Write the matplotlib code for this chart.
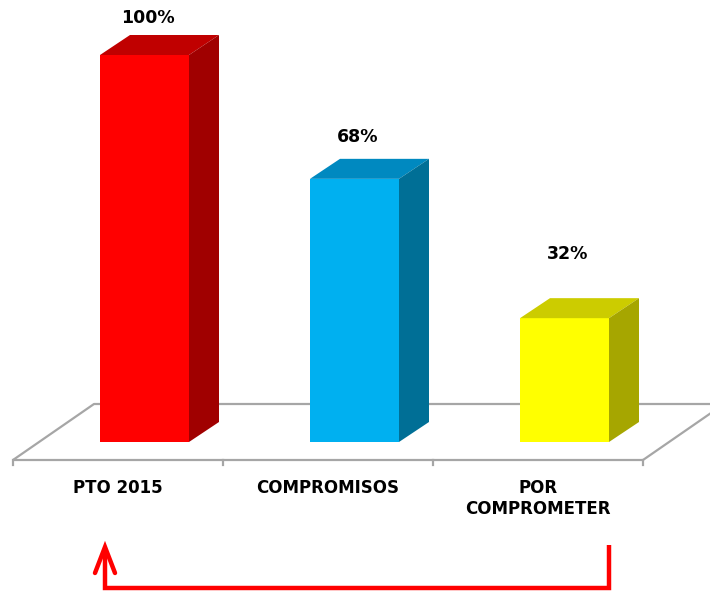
import matplotlib

matplotlib.use("Agg")
import matplotlib.pyplot as plt
from matplotlib.patches import Polygon

categories = ["PTO 2015", "COMPROMISOS", "POR\nCOMPROMETER"]
values = [100, 68, 32]
value_labels = ["100%", "68%", "32%"]
front_colors = ["#FF0000", "#00B0F0", "#FFFF00"]
top_colors = ["#C00000", "#0089C0", "#CCCC00"]
side_colors = ["#A00000", "#006F96", "#A6A600"]

# layout in pixel units (figure is 710 x 591)
W, H = 710, 591
BASE_Y = 442
PX_PER_PCT = 3.87
BAR_W = 89
DX, DY = 30, 20
SLOT = 210
FIRST_X = 100
LABEL_GAP = [17, 22, 44]
FLOOR_FRONT, FLOOR_BACK = 460, 404
FLOOR_LEFT, FLOOR_RIGHT = 13, 643
GREY = "#A6A6A6"

fig = plt.figure(figsize=(W / 100, H / 100), dpi=100)
ax = fig.add_axes([0, 0, 1, 1])
ax.set_xlim(0, W)
ax.set_ylim(H, 0)
ax.axis("off")

# floor (drawn behind the bars)
fdx = 81
ax.plot([FLOOR_LEFT, FLOOR_LEFT + fdx, W + 20], [FLOOR_FRONT, FLOOR_BACK, FLOOR_BACK],
        color=GREY, lw=1.6, solid_capstyle="butt", zorder=0.5)
ax.plot([FLOOR_LEFT, FLOOR_RIGHT, FLOOR_RIGHT + fdx], [FLOOR_FRONT, FLOOR_FRONT, FLOOR_BACK],
        color=GREY, lw=1.6, solid_capstyle="butt", zorder=0.5)
for i in range(len(categories) + 1):
    tx = FLOOR_LEFT + i * (FLOOR_RIGHT - FLOOR_LEFT) / len(categories)
    ax.plot([tx, tx], [FLOOR_FRONT, FLOOR_FRONT + 5], color=GREY, lw=1.6, zorder=0.5)

# bars
for i, v in enumerate(values):
    x0 = FIRST_X + i * SLOT
    x1 = x0 + BAR_W
    top = BASE_Y - v * PX_PER_PCT
    ax.add_patch(Polygon([(x0, BASE_Y), (x1, BASE_Y), (x1, top), (x0, top)],
                         closed=True, fc=front_colors[i], ec="none", zorder=2))
    ax.add_patch(Polygon([(x0, top), (x1, top), (x1 + DX, top - DY), (x0 + DX, top - DY)],
                         closed=True, fc=top_colors[i], ec="none", zorder=2))
    ax.add_patch(Polygon([(x1, BASE_Y), (x1 + DX, BASE_Y - DY), (x1 + DX, top - DY), (x1, top)],
                         closed=True, fc=side_colors[i], ec="none", zorder=2))
    ax.text(x0 + BAR_W / 2 + 3, top - DY - LABEL_GAP[i], value_labels[i],
            ha="center", va="center", fontsize=12.5, fontweight="bold", color="black")

    cx = FLOOR_LEFT + (i + 0.5) * (FLOOR_RIGHT - FLOOR_LEFT) / len(categories)
    ax.text(cx, 479, categories[i], ha="center", va="top", fontsize=12,
            fontweight="bold", color="black", linespacing=1.2)

# red arrow from "POR COMPROMETER" back to "PTO 2015"
ax.plot([609, 609, 105, 105], [545, 588, 588, 552], color="#FF0000", lw=3.2,
        solid_joinstyle="miter", solid_capstyle="butt")
ax.plot([95, 105, 115], [573, 547, 573], color="#FF0000", lw=3.2,
        solid_joinstyle="miter", solid_capstyle="round")

fig.savefig("out.png", dpi=100)
